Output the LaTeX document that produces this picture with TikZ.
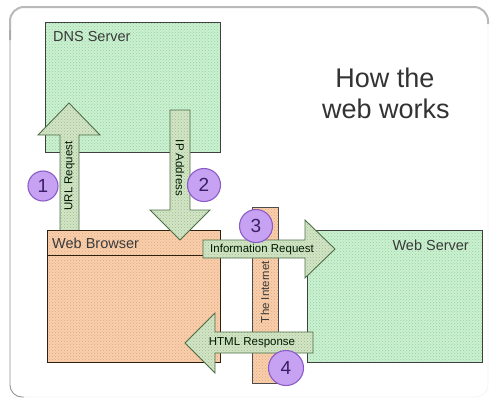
\documentclass[tikz,border=0pt]{standalone}
\usepackage{fontspec}
\setmainfont{Liberation Sans}
\usetikzlibrary{patterns}
\definecolor{mint}{HTML}{CBF2D0}
\definecolor{mintdot}{HTML}{98CCA2}
\definecolor{peach}{HTML}{FACFAC}
\definecolor{peachdot}{HTML}{DCA880}
\definecolor{arrowfill}{HTML}{D2E6C6}
\definecolor{arrowdot}{HTML}{A2BA92}
\definecolor{arrowline}{HTML}{4E6E48}
\definecolor{purplefill}{HTML}{C8A2F2}
\definecolor{purpleline}{HTML}{8A5CC8}
\definecolor{purpletext}{HTML}{3A1E66}
\definecolor{labeltext}{HTML}{3A3A3A}
\begin{document}
\begin{tikzpicture}[x=1pt,y=-1pt,
  greenbox/.style={draw=black!75, line width=0.9pt, preaction={fill=mint}, pattern=crosshatch dots, pattern color=mintdot},
  peachbox/.style={draw=black!75!brown, line width=0.9pt, preaction={fill=peach}, pattern=crosshatch dots, pattern color=peachdot},
  blockarrow/.style={draw=arrowline, line width=0.9pt, preaction={fill=arrowfill}, pattern=crosshatch dots, pattern color=arrowdot, line join=miter},
  boxlabel/.style={font=\fontsize{14.5}{16}\selectfont, text=labeltext, inner sep=0pt},
  arrowlabel/.style={font=\fontsize{11.5}{13}\selectfont, text=black!90!green, inner sep=0pt},
  stepnum/.style={circle, draw=purpleline, line width=1.1pt, fill=purplefill, minimum size=#1, inner sep=0pt, text=purpletext, font=\fontsize{19}{20}\selectfont},
]
\useasboundingbox (0,0) rectangle (492,400);
% frame
\draw[gray!8, line width=0.8pt, rounded corners=12pt] (488,22) -- (488,397) -- (24,397);
\draw[gray!55, line width=2pt, rounded corners=14pt] (10,40) -- (10,7) -- (488,7) -- (488,24);
\draw[gray!85, line width=0.9pt, rounded corners=12pt] (24,397) -- (10,397) -- (10,30);

% DNS server
\path[greenbox] (45,22) rectangle (220,152);
\node[boxlabel, anchor=base west] (dnslabel) at (53,41) {DNS Server};

% arrow 1 up
\path[blockarrow] (60,232) -- (60,135) -- (38,135) -- (69,103) -- (100,135) -- (79,135) -- (79,232) -- cycle;
\node[arrowlabel, rotate=90] (urlreq) at (69.5,176) {URL Request};

% web browser
\path[peachbox] (47,230) rectangle (220,362);
\draw[black!75!brown, line width=0.9pt] (47,255) -- (220,255);
\node[boxlabel, anchor=base west] (browserlabel) at (52,248) {Web Browser};

% arrow 2 down
\path[blockarrow] (170,110) -- (190,110) -- (190,210) -- (210,210) -- (180,240) -- (150,210) -- (170,210) -- cycle;
\node[arrowlabel, rotate=-90] (ipaddr) at (180,168) {IP Address};

% web server
\path[greenbox] (307,230) rectangle (482,362);
\node[boxlabel, anchor=base east] (serverlabel) at (469,250) {Web Server};

% internet bar
\path[peachbox, draw=black!70] (252,207) rectangle (278,383);
\node[arrowlabel, rotate=90, text=labeltext] (internet) at (265,292) {The Internet};

% arrow 3 right
\path[blockarrow] (203,240) -- (305,240) -- (305,220) -- (335,249) -- (305,278) -- (305,258) -- (203,258) -- cycle;
\node[arrowlabel] (inforeq) at (262,249.5) {Information Request};

% arrow 4 left
\path[blockarrow] (313,332) -- (215,332) -- (215,313) -- (185,343) -- (215,373) -- (215,353) -- (313,353) -- cycle;
\node[arrowlabel] (htmlresp) at (252,343) {HTML Response};

% step circles
\node[stepnum=30pt] (s1) at (43,186) {1};
\node[stepnum=33pt] (s2) at (204,185) {2};
\node[stepnum=33pt] (s3) at (256,226) {3};
\node[stepnum=35pt] (s4) at (286,368) {4};

% title
\node[font=\fontsize{27}{31}\selectfont, text=black!80, inner sep=0pt, anchor=base] (title1) at (385,87) {How the};
\node[font=\fontsize{27}{31}\selectfont, text=black!80, inner sep=0pt, anchor=base] (title2) at (386,118) {web works};
\end{tikzpicture}
\end{document}
